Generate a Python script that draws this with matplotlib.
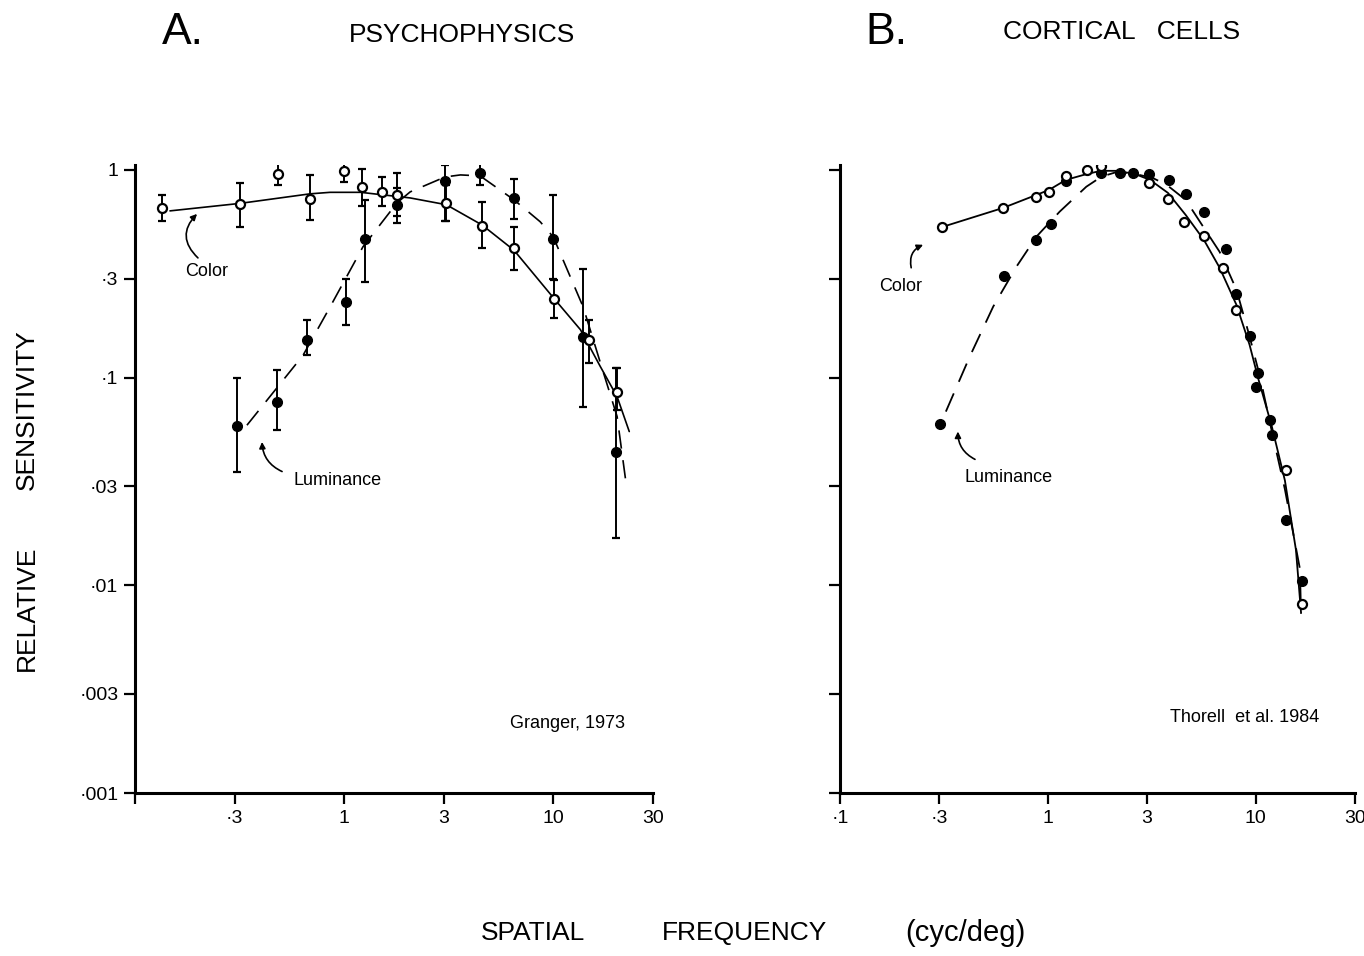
import matplotlib
matplotlib.use("Agg")
import matplotlib.pyplot as plt
import numpy as np

plt.rcParams['font.family'] = ['Liberation Sans', 'DejaVu Sans']

# ---------------- Panel A: psychophysics (Granger, 1973) ----------------
a_col_f = [0.135, 0.318, 0.483, 0.687, 1.0, 1.22, 1.52, 1.79, 3.08, 4.57, 6.5, 10.1, 14.9, 20.2]
a_col_s = [0.656, 0.687, 0.957, 0.726, 0.99, 0.828, 0.78, 0.76, 0.69, 0.538, 0.42, 0.24, 0.151, 0.085]
a_col_hi = [0.758, 0.866, 1.105, 0.946, 1.117, 1.011, 0.925, 0.967, 0.85, 0.70, 0.53, 0.295, 0.19, 0.111]
a_col_lo = [0.570, 0.532, 0.847, 0.575, 0.876, 0.671, 0.671, 0.556, 0.57, 0.42, 0.33, 0.194, 0.117, 0.070]

a_lum_f = [0.308, 0.478, 0.665, 1.02, 1.26, 1.79, 3.04, 4.47, 6.5, 10.0, 13.9, 20.0]
a_lum_s = [0.0588, 0.0767, 0.152, 0.23, 0.466, 0.68, 0.885, 0.97, 0.73, 0.466, 0.157, 0.044]
a_lum_hi = [0.100, 0.109, 0.19, 0.30, 0.72, 0.82, 1.06, 1.14, 0.90, 0.76, 0.334, 0.111]
a_lum_lo = [0.035, 0.056, 0.129, 0.18, 0.29, 0.60, 0.57, 0.85, 0.58, 0.30, 0.072, 0.0169]

a_colcurve_f = [0.147, 0.318, 0.687, 0.857, 1.2, 1.54, 2.07, 3.08, 4.57, 6.5, 10.1, 13.5, 16.8, 20.2, 23.1]
a_colcurve_s = [0.635, 0.69, 0.767, 0.78, 0.78, 0.758, 0.733, 0.68, 0.543, 0.41, 0.24, 0.17, 0.113, 0.081, 0.055]

a_lumcurve_f = [0.343, 0.636, 0.857, 1.23, 1.79, 2.07, 3.04, 3.6, 4.47, 6.5, 8.66, 10.0, 13.9, 16.8, 20.2, 22.4]
a_lumcurve_s = [0.059, 0.128, 0.219, 0.426, 0.694, 0.784, 0.925, 0.946, 0.936, 0.717, 0.563, 0.476, 0.219, 0.118, 0.065, 0.030]

# ---------------- Panel B: cortical cells (Thorell et al. 1984) ----------------
b_col_f = [0.308, 0.608, 0.875, 1.01, 1.22, 1.55, 1.8, 3.07, 3.79, 4.53, 5.63, 6.97, 8.07, 13.9, 16.6]
b_col_s = [0.53, 0.656, 0.744, 0.784, 0.939, 1.0, 1.04, 0.863, 0.725, 0.564, 0.482, 0.337, 0.212, 0.0358, 0.0081]

b_lum_f = [0.303, 0.617, 0.875, 1.03, 1.22, 1.8, 2.22, 2.57, 3.07, 3.83, 4.6, 5.63, 7.18, 8.0, 9.33,
           10.2, 10.05, 11.7, 11.9, 14.0, 16.6]
b_lum_s = [0.06, 0.31, 0.46, 0.55, 0.886, 0.967, 0.964, 0.964, 0.956, 0.895, 0.764, 0.624, 0.416, 0.253, 0.158,
           0.105, 0.090, 0.0623, 0.0527, 0.0207, 0.0105]

b_colcurve_f = [0.308, 0.608, 1.01, 1.22, 1.54, 1.8, 2.15, 2.62, 3.1, 3.78, 4.6, 5.63, 6.7, 8.07, 9.33, 10.3, 11.9, 13.8, 15.6, 16.5]
b_colcurve_s = [0.53, 0.656, 0.80, 0.895, 0.956, 0.99, 0.99, 0.956, 0.895, 0.775, 0.607, 0.46, 0.338, 0.224, 0.144, 0.098, 0.059, 0.032, 0.0148, 0.0074]

b_lumcurve_f = [0.323, 0.422, 0.546, 0.707, 0.882, 1.14, 1.53, 1.81, 2.15, 2.62, 3.19, 3.73, 4.6, 5.63, 6.7, 8.07, 9.33, 10.5, 11.9, 13.8, 16.3, 16.5]
b_lumcurve_s = [0.0686, 0.127, 0.22, 0.343, 0.478, 0.63, 0.83, 0.928, 0.978, 0.957, 0.915, 0.847, 0.717, 0.526, 0.403, 0.265, 0.158, 0.10, 0.056, 0.029, 0.012, 0.0073]

x_ticks_a = [0.1, 0.3, 1, 3, 10, 30]
x_labels_a = ['', '·3', '1', '3', '10', '30']
x_ticks_b = [0.1, 0.3, 1, 3, 10, 30]
x_labels_b = ['·1', '·3', '1', '3', '10', '30']
y_ticks = [0.001, 0.003, 0.01, 0.03, 0.1, 0.3, 1]
y_labels = ['·001', '·003', '·01', '·03', '·1', '·3', '1']

W, H = 1364, 956
fig = plt.figure(figsize=(W / 100, H / 100), dpi=100)
fig.patch.set_facecolor('white')

def px_axes(x0, x1, ytop, ybot):
    return [x0 / W, 1 - ybot / H, (x1 - x0) / W, (ybot - ytop) / H]

axA = fig.add_axes(px_axes(135, 653, 165, 793))
axB = fig.add_axes(px_axes(840, 1355, 165, 793))

for ax, xt, xl in ((axA, x_ticks_a, x_labels_a), (axB, x_ticks_b, x_labels_b)):
    ax.set_xscale('log')
    ax.set_yscale('log')
    ax.set_xlim(0.1, 30)
    ax.set_ylim(0.001, 1.056)
    ax.spines['top'].set_visible(False)
    ax.spines['right'].set_visible(False)
    ax.spines['left'].set_linewidth(2.2)
    ax.spines['bottom'].set_linewidth(2.2)
    ax.minorticks_off()
    ax.set_xticks(xt)
    ax.set_xticklabels(xl)
    ax.set_yticks(y_ticks)
    ax.tick_params(axis='both', which='major', direction='out', length=8, width=1.6,
                   labelsize=14, pad=4, colors='black')
    ax.tick_params(axis='both', which='minor', length=0)
    for sp in ax.spines.values():
        sp.set_clip_on(False)

axA.set_yticklabels(y_labels)
axB.set_yticklabels([''] * len(y_ticks))

ms_open = 6.5
ms_fill = 7

# Panel A curves
axA.plot(a_colcurve_f, a_colcurve_s, color='black', lw=1.2, solid_capstyle='round')
axA.plot(a_lumcurve_f, a_lumcurve_s, color='black', lw=1.2, dashes=(11, 7))

# Panel A error bars and points
a_col_s_arr = np.array(a_col_s)
axA.errorbar(a_col_f, a_col_s,
             yerr=[a_col_s_arr - np.array(a_col_lo), np.array(a_col_hi) - a_col_s_arr],
             fmt='none', ecolor='black', elinewidth=1.4, capsize=3, capthick=1.6, zorder=3)
a_lum_s_arr = np.array(a_lum_s)
axA.errorbar(a_lum_f, a_lum_s,
             yerr=[a_lum_s_arr - np.array(a_lum_lo), np.array(a_lum_hi) - a_lum_s_arr],
             fmt='none', ecolor='black', elinewidth=1.4, capsize=3, capthick=1.6, zorder=3)
axA.plot(a_lum_f, a_lum_s, 'o', color='black', ms=ms_fill, zorder=4)
axA.plot(a_col_f, a_col_s, 'o', mfc='white', mec='black', mew=1.6, ms=ms_open, zorder=5)

# Panel B curves and points
axB.plot(b_colcurve_f, b_colcurve_s, color='black', lw=1.3)
axB.plot(b_lumcurve_f, b_lumcurve_s, color='black', lw=1.3, dashes=(11, 7))
axB.plot(b_lum_f, b_lum_s, 'o', color='black', ms=ms_fill, zorder=4)
axB.plot(b_col_f, b_col_s, 'o', mfc='white', mec='black', mew=1.6, ms=ms_open, zorder=5)

arrow_kw = dict(arrowstyle='-|>', color='black', lw=1.2, mutation_scale=9, shrinkA=0, shrinkB=0)

# Annotations panel A
axA.text(0.221, 0.323, 'Color', fontsize=13, ha='center', va='center')
axA.annotate('', xy=(0.198, 0.614), xytext=(0.2, 0.377),
             arrowprops=dict(connectionstyle='arc3,rad=-0.5', **arrow_kw))
axA.text(0.926, 0.032, 'Luminance', fontsize=13, ha='center', va='center')
axA.annotate('', xy=(0.405, 0.049), xytext=(0.505, 0.0353),
             arrowprops=dict(connectionstyle='arc3,rad=-0.3', **arrow_kw))
axA.text(11.7, 0.00217, 'Granger, 1973', fontsize=13, ha='center', va='center')

# Annotations panel B
axB.text(0.196, 0.274, 'Color', fontsize=13, ha='center', va='center')
axB.annotate('', xy=(0.251, 0.436), xytext=(0.22, 0.338),
             arrowprops=dict(connectionstyle='arc3,rad=-0.4', **arrow_kw))
axB.text(0.65, 0.033, 'Luminance', fontsize=13, ha='center', va='center')
axB.annotate('', xy=(0.369, 0.055), xytext=(0.446, 0.0404),
             arrowprops=dict(connectionstyle='arc3,rad=-0.3', **arrow_kw))
axB.text(8.85, 0.00232, 'Thorell  et al. 1984', fontsize=13, ha='center', va='center')

# Titles and axis labels
def ftext(x, y, s, **kw):
    fig.text(x / W, 1 - y / H, s, **kw)

ftext(183, 33, 'A.', fontsize=32, ha='center', va='center')
ftext(462, 35, 'PSYCHOPHYSICS', fontsize=19, ha='center', va='center')
ftext(886, 33, 'B.', fontsize=32, ha='center', va='center')
ftext(1122, 32, 'CORTICAL   CELLS', fontsize=19, ha='center', va='center')

ftext(27, 608, 'RELATIVE', fontsize=19, ha='center', va='center', rotation=90)
ftext(27, 410, 'SENSITIVITY', fontsize=19, ha='center', va='center', rotation=90)

ftext(533, 933, 'SPATIAL', fontsize=19, ha='center', va='center')
ftext(745, 933, 'FREQUENCY', fontsize=19, ha='center', va='center')
ftext(965, 933, '(cyc/deg)', fontsize=21, ha='center', va='center')

fig.savefig('out.png', dpi=100, facecolor='white')
